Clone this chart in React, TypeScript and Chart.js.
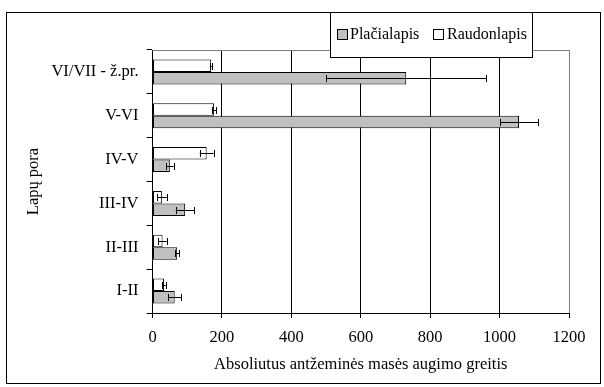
import React, { useEffect, useRef } from "react";
import { Chart, registerables } from "chart.js";

Chart.register(...registerables);

const categories = ["VI/VII - ž.pr.", "V-VI", "IV-V", "III-IV", "II-III", "I-II"];
const raudonlapis = [169, 177, 156, 27, 29, 33];
const raudonlapisErr = [2, 6, 20, 14, 12, 5];
const placialapis = [731, 1056, 50, 94, 71, 64];
const placialapisErr = [231, 55, 11, 27, 6, 18];
const xTicks = [0, 200, 400, 600, 800, 1000, 1200];
const seriesNames = ["Plačialapis", "Raudonlapis"];

const FONT = "'Liberation Serif', 'Times New Roman', serif";
const FS = 16.5;

const errorBarsPlugin = {
  id: "errorBars",
  afterDatasetsDraw(chart: any) {
    const ctx = chart.ctx;
    const xs = chart.scales.x;
    ctx.save();
    ctx.strokeStyle = "#000";
    ctx.lineWidth = 1;
    chart.data.datasets.forEach((ds: any, di: number) => {
      const meta = chart.getDatasetMeta(di);
      const errs: number[] = ds.errors || [];
      meta.data.forEach((bar: any, i: number) => {
        const v = ds.data[i];
        const e = errs[i] || 0;
        const lo = xs.getPixelForValue(v - e);
        const hi = xs.getPixelForValue(v + e);
        const y = Math.round(bar.y) + 0.5;
        const c = 3.5;
        ctx.beginPath();
        ctx.moveTo(lo, y);
        ctx.lineTo(hi, y);
        ctx.moveTo(Math.round(lo) + 0.5, y - c);
        ctx.lineTo(Math.round(lo) + 0.5, y + c);
        ctx.moveTo(Math.round(hi) + 0.5, y - c);
        ctx.lineTo(Math.round(hi) + 0.5, y + c);
        ctx.stroke();
      });
    });
    ctx.restore();
  },
};

const framePlugin = {
  id: "frame",
  afterDraw(chart: any) {
    const ctx = chart.ctx;
    const a = chart.chartArea;
    ctx.save();
    ctx.strokeStyle = "#808080";
    ctx.lineWidth = 1;
    ctx.beginPath();
    ctx.moveTo(a.left, Math.round(a.top) + 0.5);
    ctx.lineTo(a.right, Math.round(a.top) + 0.5);
    ctx.stroke();
    ctx.strokeStyle = "#000";
    ctx.strokeRect(6.5, 12.5, 594, 371);
    const lx = 330.5, ly = 12.5, lw = 202, lh = 45;
    ctx.fillStyle = "#fff";
    ctx.fillRect(lx, ly, lw, lh);
    ctx.strokeRect(lx, ly, lw, lh);
    const items = [
      { name: seriesNames[0], fill: "#c0c0c0", sx: 337.5, tx: 350 },
      { name: seriesNames[1], fill: "#ffffff", sx: 433.5, tx: 447 },
    ];
    ctx.font = "16px " + FONT;
    ctx.textBaseline = "middle";
    ctx.textAlign = "left";
    items.forEach((it) => {
      ctx.fillStyle = it.fill;
      ctx.fillRect(it.sx, 29.5, 10, 10);
      ctx.strokeStyle = "#000";
      ctx.strokeRect(it.sx, 29.5, 10, 10);
      ctx.fillStyle = "#000";
      ctx.fillText(it.name, it.tx, 35);
    });
    ctx.restore();
  },
};

export default function App() {
  const ref = useRef<HTMLCanvasElement | null>(null);
  useEffect(() => {
    if (!ref.current) return;
    const chart = new Chart(ref.current, {
      type: "bar",
      data: {
        labels: categories,
        datasets: [
          {
            label: seriesNames[1],
            data: raudonlapis,
            errors: raudonlapisErr,
            backgroundColor: "#ffffff",
            borderColor: "#000000",
            borderWidth: 1,
            borderSkipped: false,
            categoryPercentage: 0.57,
            barPercentage: 1.0,
          } as any,
          {
            label: seriesNames[0],
            data: placialapis,
            errors: placialapisErr,
            backgroundColor: "#c0c0c0",
            borderColor: "#000000",
            borderWidth: 1,
            borderSkipped: false,
            categoryPercentage: 0.57,
            barPercentage: 1.0,
          } as any,
        ],
      },
      options: {
        indexAxis: "y",
        responsive: false,
        animation: false,
        layout: { padding: { left: 19.4, top: 50, right: 35, bottom: 8.4 } },
        plugins: { legend: { display: false }, tooltip: { enabled: false } },
        scales: {
          x: {
            type: "linear",
            min: 0,
            max: 1200,
            afterBuildTicks: (s: any) => {
              s.ticks = xTicks.map((v) => ({ value: v }));
            },
            afterFit: (s: any) => {
              s.height = 65.6;
            },
            ticks: {
              color: "#000",
              font: { family: FONT, size: FS },
              padding: 10,
              callback: (v: any) => String(v),
            },
            grid: {
              color: (c: any) => (c.tick && c.tick.value === 1200 ? "#808080" : "#000"),
              tickColor: "#000",
              tickLength: 5,
              lineWidth: 1,
            },
            border: { display: true, color: "#000", width: 1 },
            title: {
              display: true,
              text: "Absoliutus antžeminės masės augimo greitis",
              color: "#000",
              font: { family: FONT, size: FS },
              padding: { top: 4, bottom: 4 },
            },
          },
          y: {
            type: "category",
            offset: true,
            afterFit: (s: any) => {
              s.width = 133.1;
            },
            ticks: { color: "#000", font: { family: FONT, size: FS }, padding: 8 },
            grid: {
              offset: true,
              drawOnChartArea: false,
              drawTicks: true,
              tickLength: 6,
              color: "#000",
            },
            border: { display: true, color: "#000", width: 1 },
            title: {
              display: true,
              text: "Lapų pora",
              color: "#000",
              font: { family: FONT, size: FS },
              padding: { top: 4, bottom: 4 },
            },
          },
        },
      } as any,
      plugins: [errorBarsPlugin, framePlugin],
    });
    return () => chart.destroy();
  }, []);
  return (
    <div style={{ position: "absolute", left: 0, top: 0, width: 604, height: 387, background: "#fff" }}>
      <canvas ref={ref} width={604} height={387} style={{ display: "block" }} />
    </div>
  );
}
